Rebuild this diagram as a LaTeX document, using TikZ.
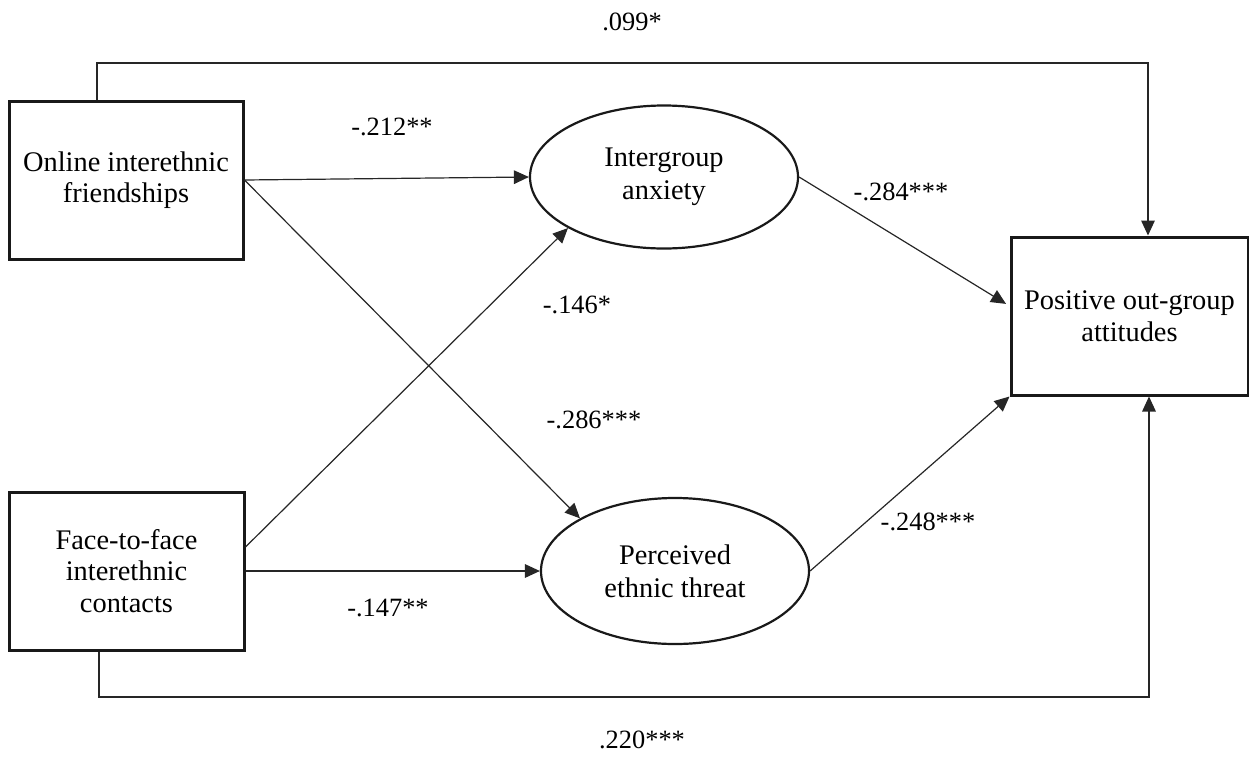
\documentclass[tikz,border=0pt]{standalone}
\usepackage{fontspec}
\setmainfont{Liberation Serif}
\usetikzlibrary{arrows.meta,shapes.geometric}
\begin{document}
\begin{tikzpicture}[x=0.5pt,y=-0.5pt,
  box/.style={draw=black!90, line width=1.5pt, rectangle, minimum height=79pt, inner sep=0pt, align=center, font=\fontsize{14.2}{15.8}\selectfont},
  oval/.style={draw=black!90, line width=1.1pt, ellipse, inner sep=0pt, align=center, font=\fontsize{14.2}{16.5}\selectfont},
  conn/.style={draw=black!85, line width=0.6pt},
  arr/.style={conn, -{Triangle[length=7.5pt,width=6.8pt]}},
  lab/.style={font=\fontsize{13.2}{15}\selectfont, inner sep=0pt}]
\useasboundingbox (0,0) rectangle (1249,756);
\node[box, minimum width=117pt] (on) at (126,180) {Online interethnic\\friendships};
\node[box, minimum width=117.5pt] (ff) at (126.5,571) {Face-to-face\\interethnic\\contacts};
\node[box, minimum width=118.5pt] (pos) at (1129.5,316) {Positive out-group\\attitudes};
\node[oval, minimum width=134pt, minimum height=71.5pt] (anx) at (664,177) {Intergroup\\anxiety};
\node[oval, minimum width=134pt, minimum height=73pt] (thr) at (675,571) {Perceived\\ethnic threat};
\coordinate (topc) at (600,63);
\coordinate (botc) at (600,697);
% paths
\draw[arr] (on.east) -- (anx.west);
\draw[arr] (on.east) -- (thr.151);
\draw[arr] ([yshift=12pt]ff.east) -- (anx.208);
\draw[arr] (ff.east) -- (thr.west);
\draw[arr, shorten >=2pt] (anx.east) -- ([yshift=5pt]pos.west);
\draw[arr] (thr.east) -- (pos.south west);
\draw[arr] ([xshift=-14.5pt]on.north) |- (topc) -| ([xshift=9.25pt]pos.north);
\draw[arr] ([xshift=-13.75pt]ff.south) |- (botc) -| ([xshift=9.75pt]pos.south);
% labels
\node[lab] (l099) at (632,22) {.099*};
\node[lab] (l220) at (642,740) {.220***};
\node[lab] (l212) at (392,127) {-.212**};
\node[lab] (l146) at (577,305) {-.146*};
\node[lab] (l286) at (594,420) {-.286***};
\node[lab] (l284) at (901,192) {-.284***};
\node[lab] (l248) at (928,522) {-.248***};
\node[lab] (l147) at (388,608) {-.147**};
\end{tikzpicture}
\end{document}
